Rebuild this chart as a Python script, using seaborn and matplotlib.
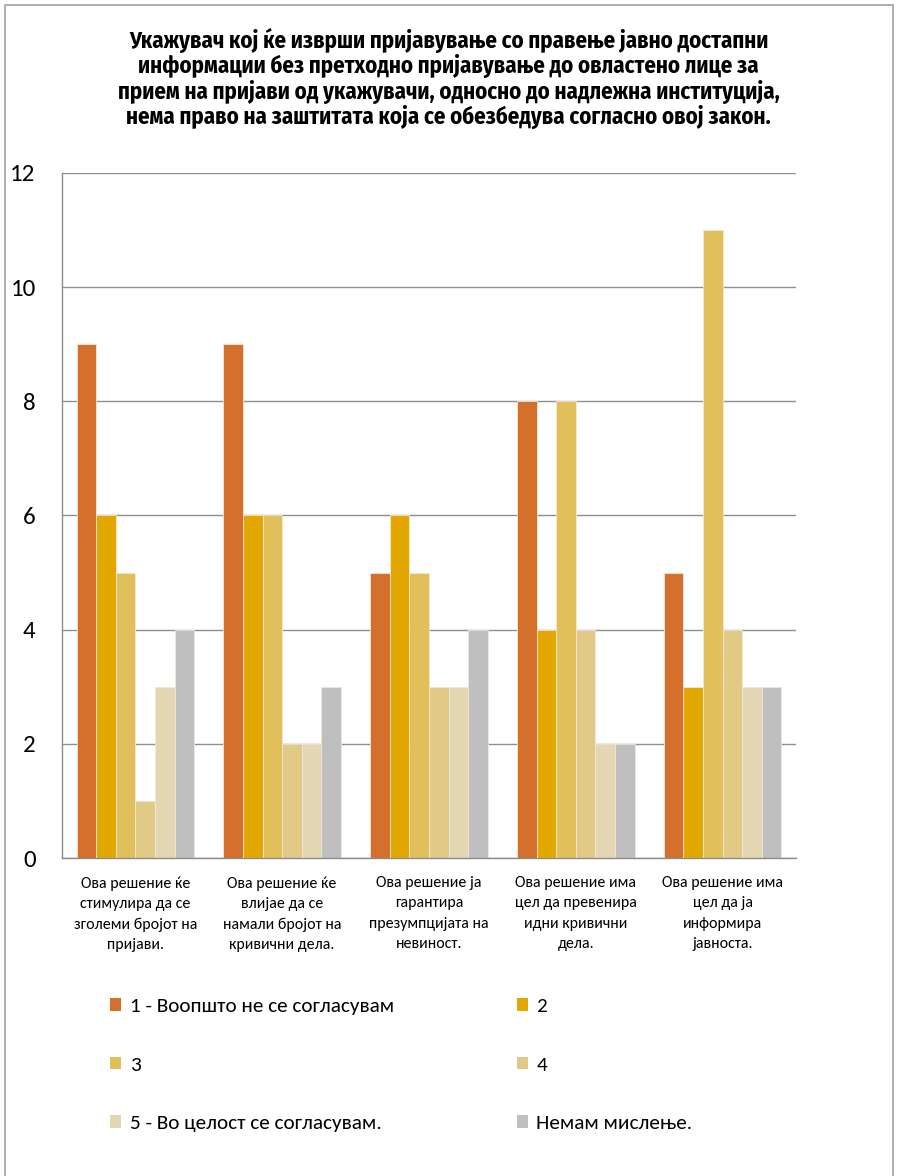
import numpy as np
import pandas as pd
import matplotlib
matplotlib.use("Agg")
import matplotlib.pyplot as plt
import seaborn as sns
from matplotlib.patches import Rectangle, Patch

categories = [
    "Ова решение ќе\nстимулира да се\nзголеми бројот на\nпријави.",
    "Ова решение ќе\nвлијае да се\nнамали бројот на\nкривични дела.",
    "Ова решение ја\nгарантира\nпрезумпцијата на\nневиност.",
    "Ова решение има\nцел да превенира\nидни кривични\nдела.",
    "Ова решение има\nцел да ја\nинформира\nјавноста.",
]
series_names = [
    "1 - Воопшто не се согласувам",
    "2",
    "3",
    "4",
    "5 - Во целост се согласувам.",
    "Немам мислење.",
]
s1 = [9, 9, 5, 8, 5]
s2 = [6, 6, 6, 4, 3]
s3 = [5, 6, 5, 8, 11]
s4 = [1, 2, 3, 4, 4]
s5 = [3, 2, 3, 2, 3]
s6 = [4, 3, 4, 2, 3]
colors = ["#D4702C", "#E2A800", "#E1BF5A", "#E1C986", "#E3D6B2", "#BFBFBF"]
title = ("Укажувач кој ќе изврши пријавување со правење јавно достапни\n"
         "информации без претходно пријавување до овластено лице за\n"
         "прием на пријави од укажувачи, односно до надлежна институција,\n"
         "нема право на заштитата која се обезбедува согласно овој закон.")

rows = []
for name, vals in zip(series_names, [s1, s2, s3, s4, s5, s6]):
    for cat, v in zip(categories, vals):
        rows.append({"category": cat, "series": name, "value": v})
df = pd.DataFrame(rows)

sns.set_theme(style="white")
plt.rcParams["font.family"] = ["Carlito", "DejaVu Sans"]
plt.rcParams["text.color"] = "black"

fig = plt.figure(figsize=(8.97, 11.76), dpi=100)
ax = fig.add_axes([0.0691, 0.2704, 0.8183, 0.5825])

sns.barplot(data=df, x="category", y="value", hue="series",
            hue_order=series_names, order=categories,
            palette=colors, width=0.8, ax=ax, legend=False,
            edgecolor="#F3E6D8", linewidth=0.6, saturation=1)

ax.set_ylim(0, 12)
ax.set_yticks(range(0, 13, 2))
ax.yaxis.grid(True, color="#8F8F8F", linewidth=1.0)
ax.set_axisbelow(True)
ax.set_xlabel("")
ax.set_ylabel("")
for side in ["top", "right"]:
    ax.spines[side].set_visible(False)
for side in ["left", "bottom"]:
    ax.spines[side].set_color("#8C8C8C")
    ax.spines[side].set_linewidth(1.0)
ax.tick_params(axis="y", labelsize=18, pad=19, length=0, colors="black")
ax.tick_params(axis="x", labelsize=11.4, pad=13, length=0, colors="black")
for lbl in ax.get_xticklabels():
    lbl.set_linespacing(1.57)
    lbl.set_horizontalalignment("center")

fig.text(0.5, 0.976, title, ha="center", va="top", fontsize=16.4,
         fontweight="bold", family=["Fira Sans Condensed", "DejaVu Sans"],
         linespacing=1.06, color="black")

handles = [Patch(facecolor=c, edgecolor="none") for c in colors]
order = [0, 2, 4, 1, 3, 5]
fig.legend([handles[i] for i in order], [series_names[i] for i in order],
           ncol=2, loc="upper left", bbox_to_anchor=(0.1226, 0.1512),
           frameon=False, fontsize=15.3, handlelength=0.52, handleheight=0.52,
           handletextpad=0.4, labelspacing=1.95, columnspacing=5.8,
           borderpad=0, borderaxespad=0)

fig.add_artist(Rectangle((0.006, -0.01), 0.989, 1.006, transform=fig.transFigure,
                         fill=False, edgecolor="#A0A0A0", linewidth=1.2))

fig.savefig("out.png", dpi=100)
